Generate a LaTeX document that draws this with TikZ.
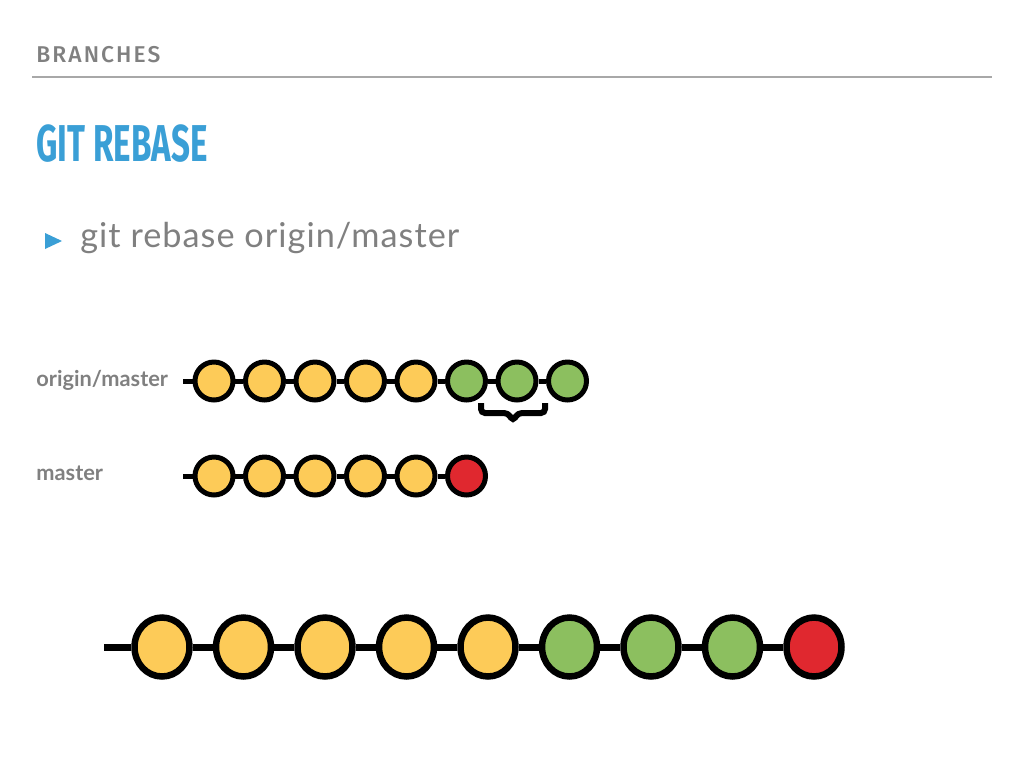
\documentclass[tikz,border=0pt]{standalone}
\usepackage{fontspec}
\usepackage{graphicx}
\setmainfont{Lato}
\newfontfamily\dinfont{Fira Sans}
\newfontfamily\dinwide[LetterSpace=9]{Fira Sans Medium}
\usetikzlibrary{positioning, shapes.geometric}
\definecolor{slideGray}{HTML}{808080}
\definecolor{ruleGray}{HTML}{A8A8A8}
\definecolor{titleBlue}{HTML}{3A9FD6}
\definecolor{commitYellow}{HTML}{FDCB58}
\definecolor{commitGreen}{HTML}{8CBF5F}
\definecolor{commitRed}{HTML}{E0282F}
\tikzset{
  commit/.style={circle, draw=black, line width=0.1cm, minimum size=0.76cm,
                 inner sep=0pt},
  bigcommit/.style={ellipse, draw=black, line width=0.13cm, minimum width=1.1cm,
                    minimum height=1.18cm, inner sep=0pt},
  branchline/.style={draw=black, line width=0.1cm},
  bigline/.style={draw=black, line width=0.14cm},
  bracepen/.style={draw=black, line width=0.12cm, rounded corners=0.08cm},
  branchlabel/.style={anchor=base west, text=slideGray, font=\bfseries\fontsize{12.4}{14}\selectfont},
  old/.style={fill=commitYellow},
  up/.style={fill=commitGreen},
  mine/.style={fill=commitRed},
}

\begin{document}
\begin{tikzpicture}[x=0.02cm, y=-0.02cm]
        \useasboundingbox[fill=white] (0,0) rectangle (1024,768);
        % Kopfzeile
        \node[anchor=base west, text=slideGray, inner sep=0pt,
              font=\dinwide\fontsize{13}{15}\selectfont] (sect) at (36,62) {BRANCHES};
        \draw[ruleGray, line width=0.04cm] (32,77) -- (992,77);
        \node[anchor=base west, text=titleBlue, inner sep=0pt,
              font=\dinfont\bfseries\fontsize{29.5}{32}\selectfont] (title) at (36,161)
              {\scalebox{0.64}[1]{GIT REBASE}};
        \fill[titleBlue] (45,233) -- (62,241) -- (45,249) -- cycle;
        \node[anchor=base west, text=slideGray, inner sep=0pt,
              font=\addfontfeatures{LetterSpace=3}\fontsize{19.5}{22}\selectfont] (cmd) at (80,247)
              {git rebase origin/master};
        % origin/master
        \node[branchlabel, inner sep=0pt] (lo) at (36,386) {origin/master};
        \coordinate (os) at (183,381);
        \node[commit, old] (o1) at (214,381) {};
        \node[commit, old] (o2) at (264.5,381) {};
        \node[commit, old] (o3) at (315,381) {};
        \node[commit, old] (o4) at (365.5,381) {};
        \node[commit, old] (o5) at (416,381) {};
        \node[commit, up] (o6) at (466.5,381) {};
        \node[commit, up] (o7) at (517,381) {};
        \node[commit, up] (o8) at (567.5,381) {};
        \draw[branchline] (os) -- (o1);
        \foreach \i [count=\j from 2] in {1,...,7}
          \draw[branchline] (o\i) -- (o\j);
        \coordinate (bl) at (481,403);
        \coordinate (br) at (545,403);
        \draw[bracepen] (bl) -- (481,413) -- (508,413) -- (513,421)
          -- (518,413) -- (545,413) -- (br);
        % master
        \node[branchlabel, inner sep=0pt] (lm) at (36,480) {master};
        \coordinate (ms) at (183,476);
        \node[commit, old] (m1) at (214,476) {};
        \node[commit, old] (m2) at (264.5,476) {};
        \node[commit, old] (m3) at (315,476) {};
        \node[commit, old] (m4) at (365.5,476) {};
        \node[commit, old] (m5) at (416,476) {};
        \node[commit, mine] (m6) at (466.5,476) {};
        \draw[branchline] (ms) -- (m1);
        \foreach \i [count=\j from 2] in {1,...,5}
          \draw[branchline] (m\i) -- (m\j);
        % nach dem Rebase
        \coordinate (rs) at (104,647);
        \node[bigcommit, old] (r1) at (162,647) {};
        \node[bigcommit, old] (r2) at (243.5,647) {};
        \node[bigcommit, old] (r3) at (325,647) {};
        \node[bigcommit, old] (r4) at (406.5,647) {};
        \node[bigcommit, old] (r5) at (488,647) {};
        \node[bigcommit, up] (r6) at (569.5,647) {};
        \node[bigcommit, up] (r7) at (651,647) {};
        \node[bigcommit, up] (r8) at (732.5,647) {};
        \node[bigcommit, mine] (r9) at (814,647) {};
        \draw[bigline] (rs) -- (r1);
        \foreach \i [count=\j from 2] in {1,...,8}
          \draw[bigline] (r\i) -- (r\j);
      \end{tikzpicture}
\end{document}
